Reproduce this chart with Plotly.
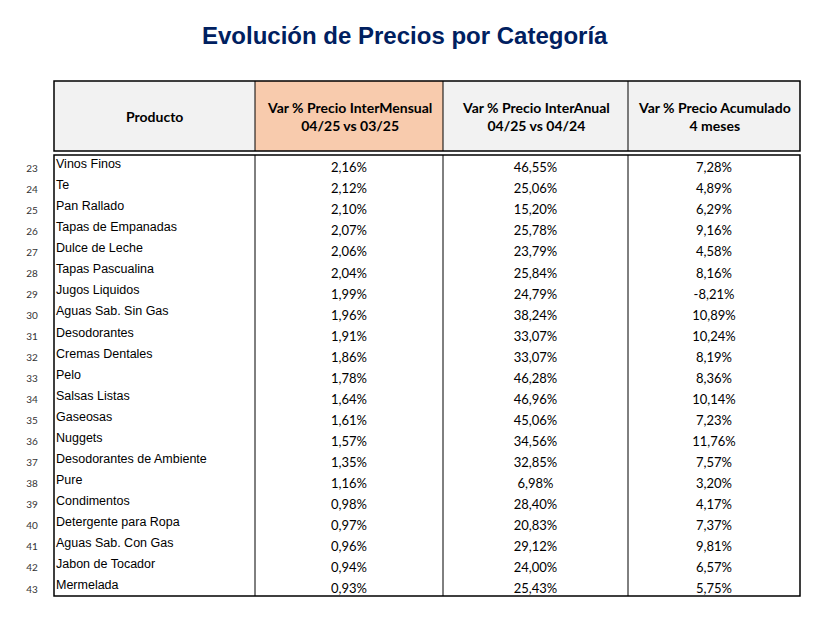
import plotly.graph_objects as go

# datos de la tabla
filas = list(range(23, 44))
productos = ["Vinos Finos", "Te", "Pan Rallado", "Tapas de Empanadas", "Dulce de Leche",
             "Tapas Pascualina", "Jugos Liquidos", "Aguas Sab. Sin Gas", "Desodorantes",
             "Cremas Dentales", "Pelo", "Salsas Listas", "Gaseosas", "Nuggets",
             "Desodorantes de Ambiente", "Pure", "Condimentos", "Detergente para Ropa",
             "Aguas Sab. Con Gas", "Jabon de Tocador", "Mermelada"]
var_mensual = ["2,16%", "2,12%", "2,10%", "2,07%", "2,06%", "2,04%", "1,99%", "1,96%",
               "1,91%", "1,86%", "1,78%", "1,64%", "1,61%", "1,57%", "1,35%", "1,16%",
               "0,98%", "0,97%", "0,96%", "0,94%", "0,93%"]
var_anual = ["46,55%", "25,06%", "15,20%", "25,78%", "23,79%", "25,84%", "24,79%", "38,24%",
             "33,07%", "33,07%", "46,28%", "46,96%", "45,06%", "34,56%", "32,85%", "6,98%",
             "28,40%", "20,83%", "29,12%", "24,00%", "25,43%"]
var_acum = ["7,28%", "4,89%", "6,29%", "9,16%", "4,58%", "8,16%", "-8,21%", "10,89%",
            "10,24%", "8,19%", "8,36%", "10,14%", "7,23%", "11,76%", "7,57%", "3,20%",
            "4,17%", "7,37%", "9,81%", "6,57%", "5,75%"]
encabezados = ["<b>Producto</b>",
               "<b>Var % Precio InterMensual</b><br><b>04/25 vs 03/25</b>",
               "<b>Var % Precio InterAnual</b><br><b>04/25 vs 04/24</b>",
               "<b>Var % Precio Acumulado</b><br><b>4 meses</b>"]

# geometría (px de la ventana); la página deja 8 px de margen
W, H = 822, 632
OFF = 8
cols = [54, 255, 443, 628, 800]
head_top, head_bot = 81, 151
body_top, body_bot = 155, 596
y0, paso = 165, 21.05

idx = list(range(len(productos)))
y_txt = [y0 + i * paso for i in idx]
y_num = [y + 4 for y in y_txt]
centros = [(cols[k] + cols[k + 1]) / 2 for k in range(4)]

fig = go.Figure()

calibri = "Lato, 'Open Sans', sans-serif"
arial = "'Liberation Sans', Arial, sans-serif"

fig.add_trace(go.Scatter(x=[32] * len(filas), y=y_num, mode="text", text=[str(f) for f in filas],
                         textfont=dict(family=calibri, size=10, color="#333333")))
fig.add_trace(go.Scatter(x=[56] * len(productos), y=y_txt, mode="text", text=productos,
                         textposition="middle right",
                         textfont=dict(family=arial, size=12.5, color="#000000")))
for k, serie in enumerate([var_mensual, var_anual, var_acum]):
    fig.add_trace(go.Scatter(x=[centros[k + 1]] * len(serie), y=y_num, mode="text", text=serie,
                             textfont=dict(family=calibri, size=13, color="#000000")))

shapes = []
# encabezado
shapes.append(dict(type="rect", x0=cols[0], x1=cols[4], y0=head_top, y1=head_bot,
                   fillcolor="#f2f2f2", line=dict(width=0), layer="below"))
shapes.append(dict(type="rect", x0=cols[1], x1=cols[2], y0=head_top, y1=head_bot,
                   fillcolor="#f8cbad", line=dict(width=0), layer="below"))
for top, bot in [(head_top, head_bot), (body_top, body_bot)]:
    shapes.append(dict(type="rect", x0=cols[0], x1=cols[4], y0=top, y1=bot,
                       line=dict(color="black", width=1.5)))
    for c in cols[1:4]:
        shapes.append(dict(type="line", x0=c, x1=c, y0=top, y1=bot,
                           line=dict(color="black", width=1)))

anots = [dict(x=centros[k], y=(head_top + head_bot) / 2, text=encabezados[k], showarrow=False,
              font=dict(family=calibri, size=14, color="black"), align="center")
         for k in range(4)]
anots.append(dict(x=405, y=35, text="<b>Evolución de Precios por Categoría</b>", showarrow=False,
                  font=dict(family=arial, size=24, color="#002060")))

fig.update_layout(
    width=W - OFF, height=H - OFF, margin=dict(l=0, r=0, t=0, b=0),
    paper_bgcolor="white", plot_bgcolor="white", showlegend=False,
    xaxis=dict(range=[OFF, W], visible=False, fixedrange=True),
    yaxis=dict(range=[H, OFF], visible=False, fixedrange=True),
    shapes=shapes, annotations=anots,
)

fig.write_html("out.html", config={"displayModeBar": False})
